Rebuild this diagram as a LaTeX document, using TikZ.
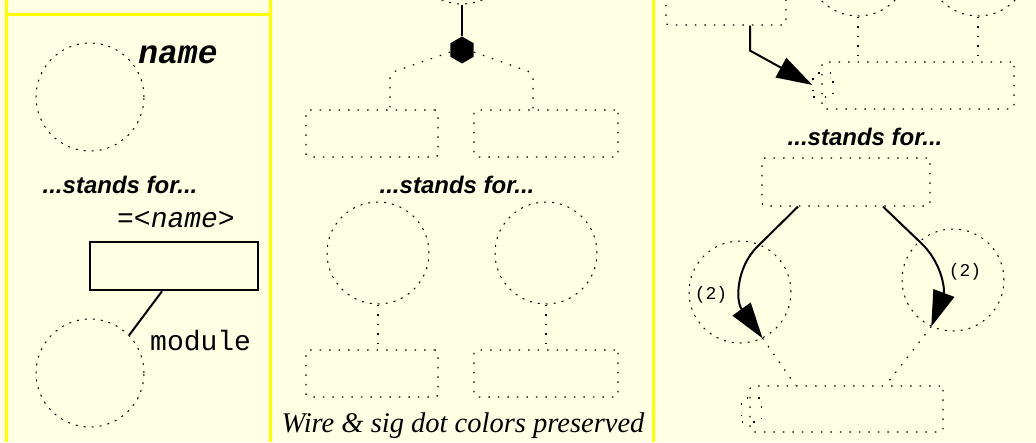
\documentclass[tikz,border=0pt]{standalone}
\usepackage{fontspec}
\setmainfont{Liberation Serif}
\setsansfont{Liberation Sans}
\setmonofont{Liberation Mono}
\usetikzlibrary{arrows.meta,shapes.geometric}

\definecolor{paper}{RGB}{255,255,228}
\definecolor{frame}{RGB}{255,255,0}

\tikzset{
  panel/.style={draw=frame, line width=3pt},
  dotbox/.style={draw, dash pattern=on 1.5pt off 8pt, line width=1.2pt, rounded corners=3pt,
    minimum width=132pt, minimum height=47pt, inner sep=0pt},
  portbox/.style={draw, dash pattern=on 1.5pt off 10pt, line width=1.2pt,
    minimum width=20pt, minimum height=24pt, inner sep=0pt},
  dotcirc/.style={draw, circle, dash pattern=on 2pt off 6pt, line width=1pt,
    minimum size=102pt, inner sep=0pt},
  dotwire/.style={dash pattern=on 1.5pt off 8pt, line width=1.2pt},
  wire/.style={line width=2pt},
  bigtip/.style={-{Triangle[length=36pt,width=22pt]}},
  stands/.style={font=\sffamily\bfseries\itshape\fontsize{24}{26}\selectfont, anchor=base, inner sep=0pt},
  ttlabel/.style={font=\ttfamily\fontsize{28}{30}\selectfont, inner sep=0pt},
  cnt/.style={font=\ttfamily\fontsize{18}{20}\selectfont, inner sep=0pt},
}

\begin{document}
\begin{tikzpicture}[x=1pt, y=-1pt]
  \useasboundingbox (0,0) rectangle (1036,442);
  \clip (0,0) rectangle (1036,442);
  \fill[paper] (0,0) rectangle (1036,442);

  % panel frames
  \draw[panel] (6,0) -- (6,442);
  \draw[panel] (270,0) -- (270,442);
  \draw[panel] (653,0) -- (653,442);
  \draw[panel] (6,14) -- (270,14);

  % left panel: named module
  \node[dotcirc, minimum size=108pt] (nmcirc) at (90,97) {};
  \node[font=\ttfamily\bfseries\itshape\fontsize{33}{35}\selectfont, anchor=base, inner sep=0pt] (nmlabel) at (178,63) {name};
  \node[stands] (sfa) at (120,193) {...stands for...};
  \node[ttlabel, font=\ttfamily\itshape\fontsize{28}{30}\selectfont, anchor=base] (eqname) at (176,227) {=<name>};
  \node[draw, line width=2.5pt, minimum width=168pt, minimum height=48pt, inner sep=0pt] (modbox) at (174,266) {};
  \node[dotcirc, minimum size=108pt] (modcirc) at (90,373) {};
  \node[ttlabel, anchor=base west] (modlabel) at (150,350) {module};
  \draw[wire] ([xshift=-12pt]modbox.south) -- (modcirc.44);

  % middle panel: sig dot fan-out
  \node[dotcirc, minimum size=104pt] (topcirc) at (462,-48) {};
  \node[regular polygon, regular polygon sides=6, shape border rotate=30, fill,
        minimum size=27pt, inner sep=0pt] (hub) at (462,50) {};
  \draw[wire] (topcirc) -- (hub);
  \node[dotbox] (lbr) at (372,133.5) {};
  \node[dotbox, minimum width=144pt] (rbr) at (546,133.5) {};
  \coordinate (lbend) at (390,73);
  \coordinate (rbend) at (533,73);
  \draw[dotwire, rounded corners=5pt] (hub.190) -- (lbend) -- (lbend |- lbr.north);
  \draw[dotwire, rounded corners=5pt] (hub.350) -- (rbend) -- (rbend |- rbr.north);
  \node[stands] (sfb) at (457,193) {...stands for...};
  \node[dotcirc] (lsig) at (378,253) {};
  \node[dotcirc] (rsig) at (546,253) {};
  \node[dotbox] (lbot) at (372,373.5) {};
  \node[dotbox, minimum width=144pt] (rbot) at (546,373.5) {};
  \draw[dotwire] (lsig.south) -- (lsig.south |- lbot.north);
  \draw[dotwire] (rsig.south) -- (rsig.south |- rbot.north);
  \node[font=\itshape\fontsize{28.5}{30}\selectfont, anchor=base, inner sep=0pt] (note) at (463,432) {Wire \& sig dot colors preserved};

  % right panel: repeated connection
  \node[dotbox, minimum width=120pt] (srcbox) at (726,1.5) {};
  \node[dotcirc] (ca) at (858,-35) {};
  \node[dotcirc] (cb) at (978,-35) {};
  \node[dotbox, minimum width=192pt] (dstbox) at (918,85.5) {};
  \node[portbox] (dport) at (823,85) {};
  \draw[dotwire] (ca.south) -- (ca.south |- dstbox.north);
  \draw[dotwire] (cb.south) -- (cb.south |- dstbox.north);
  \draw[wire, bigtip] ([xshift=24pt]srcbox.south) -- ++(0,25) -- (dport.west);
  \node[stands] (sfc) at (865,145) {...stands for...};
  \node[dotbox, minimum width=168pt, minimum height=48pt] (mbox) at (846,182) {};
  \node[dotcirc] (lc) at (740,292) {};
  \node[dotcirc] (rc) at (953,280) {};
  \node[cnt] (lcnt) at (711,295) {(2)};
  \node[cnt] (rcnt) at (965,272) {(2)};
  \node[dotbox, minimum width=193pt, minimum height=46pt] (obox) at (846.5,409) {};
  \node[portbox] (oport) at (751.5,410) {};
  \draw[wire, bigtip] ([xshift=-48pt]mbox.south) -- (757,247) .. controls (737,267) and (735,300) .. (lc.296);
  \draw[wire, bigtip] ([xshift=37pt]mbox.south) -- (920,242) .. controls (942,262) and (945,290) .. (rc.245);
  \draw[dotwire] (lc.296) -- ([xshift=-51pt]obox.north);
  \draw[dotwire] (rc.245) -- ([xshift=39pt]obox.north);
\end{tikzpicture}
\end{document}
